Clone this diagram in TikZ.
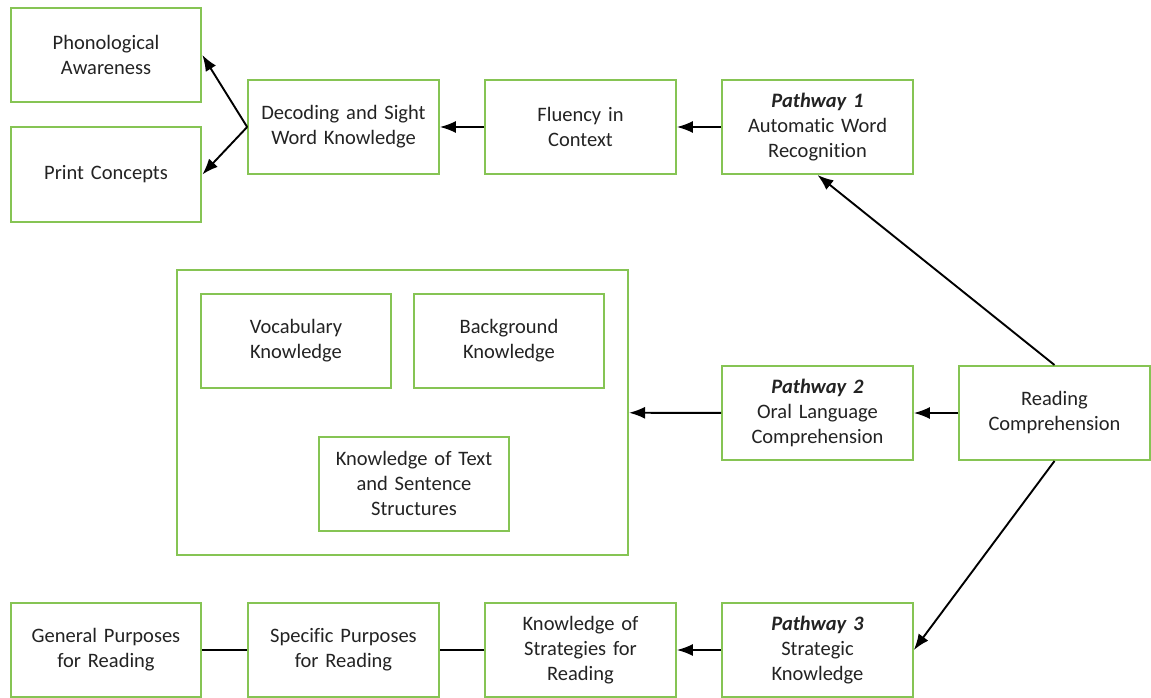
\documentclass[tikz,border=0pt]{standalone}
\usepackage{fontspec}
\setmainfont[Ligatures={NoCommon}]{Carlito}
\usepackage{tikz}
\usetikzlibrary{positioning, arrows.meta}

\begin{document}
\begin{tikzpicture}[x=1pt,y=-1pt,
        box/.style={rectangle,draw=boxgreen,line width=2pt,fill=white,text=textgray,
            minimum width=190pt,minimum height=94pt,text width=184pt,align=center,
            font=\fontsize{20.5}{25}\selectfont},
        outerbox/.style={rectangle,draw=boxgreen,line width=2pt,minimum width=451pt,minimum height=285pt},
        link/.style={line width=1.9pt,black},
        arr/.style={link,-{Latex[length=16pt,width=12pt]}}]
        \definecolor{boxgreen}{RGB}{134,196,84}
        \definecolor{textgray}{RGB}{35,35,35}
        \useasboundingbox (0,0) rectangle (1151,698);

        \node[box] (phono) at (106,55) {Phonological\\Awareness};
        \node[box] (print) at (106,174.5) {Print Concepts};
        \node[box] (decod) at (343.5,127) {Decoding and Sight\\Word Knowledge};
        \node[box] (fluen) at (580.5,127) {Fluency in\\Context};
        \node[box] (path1) at (817.5,127) {\textbf{\textit{Pathway 1}}\\Automatic Word\\Recognition};

        \node[outerbox] (known) at (402.5,412.5) {};
        \node[box] (vocab) at (296,341) {Vocabulary\\Knowledge};
        \node[box] (backg) at (509,341) {Background\\Knowledge};
        \node[box] (ktext) at (414,483.5) {Knowledge of Text\\and Sentence\\Structures};
        \node[box] (path2) at (817.5,413) {\textbf{\textit{Pathway 2}}\\Oral Language\\Comprehension};
        \node[box] (readc) at (1054.5,413) {Reading\\Comprehension};

        \node[box] (gener) at (106,650) {General Purposes\\for Reading};
        \node[box] (speci) at (343.5,650) {Specific Purposes\\for Reading};
        \node[box] (strat) at (580.5,650) {Knowledge of\\Strategies for\\Reading};
        \node[box] (path3) at (817.5,650) {\textbf{\textit{Pathway 3}}\\Strategic\\Knowledge};

        \path[arr]
                  (decod.west) edge (phono.east)
                  (decod.west) edge (print.east)
                  (fluen) edge (decod)
                  (path1) edge (fluen)
                  (readc.north) edge (path1.south)
                  (readc) edge (path2)
                  (path2) edge (known)
                  (readc.south) edge (path3.east)
                  (path3) edge (strat);

        \path[link]
                  (strat) edge (speci)
                  (speci) edge (gener);
\end{tikzpicture}
\end{document}
